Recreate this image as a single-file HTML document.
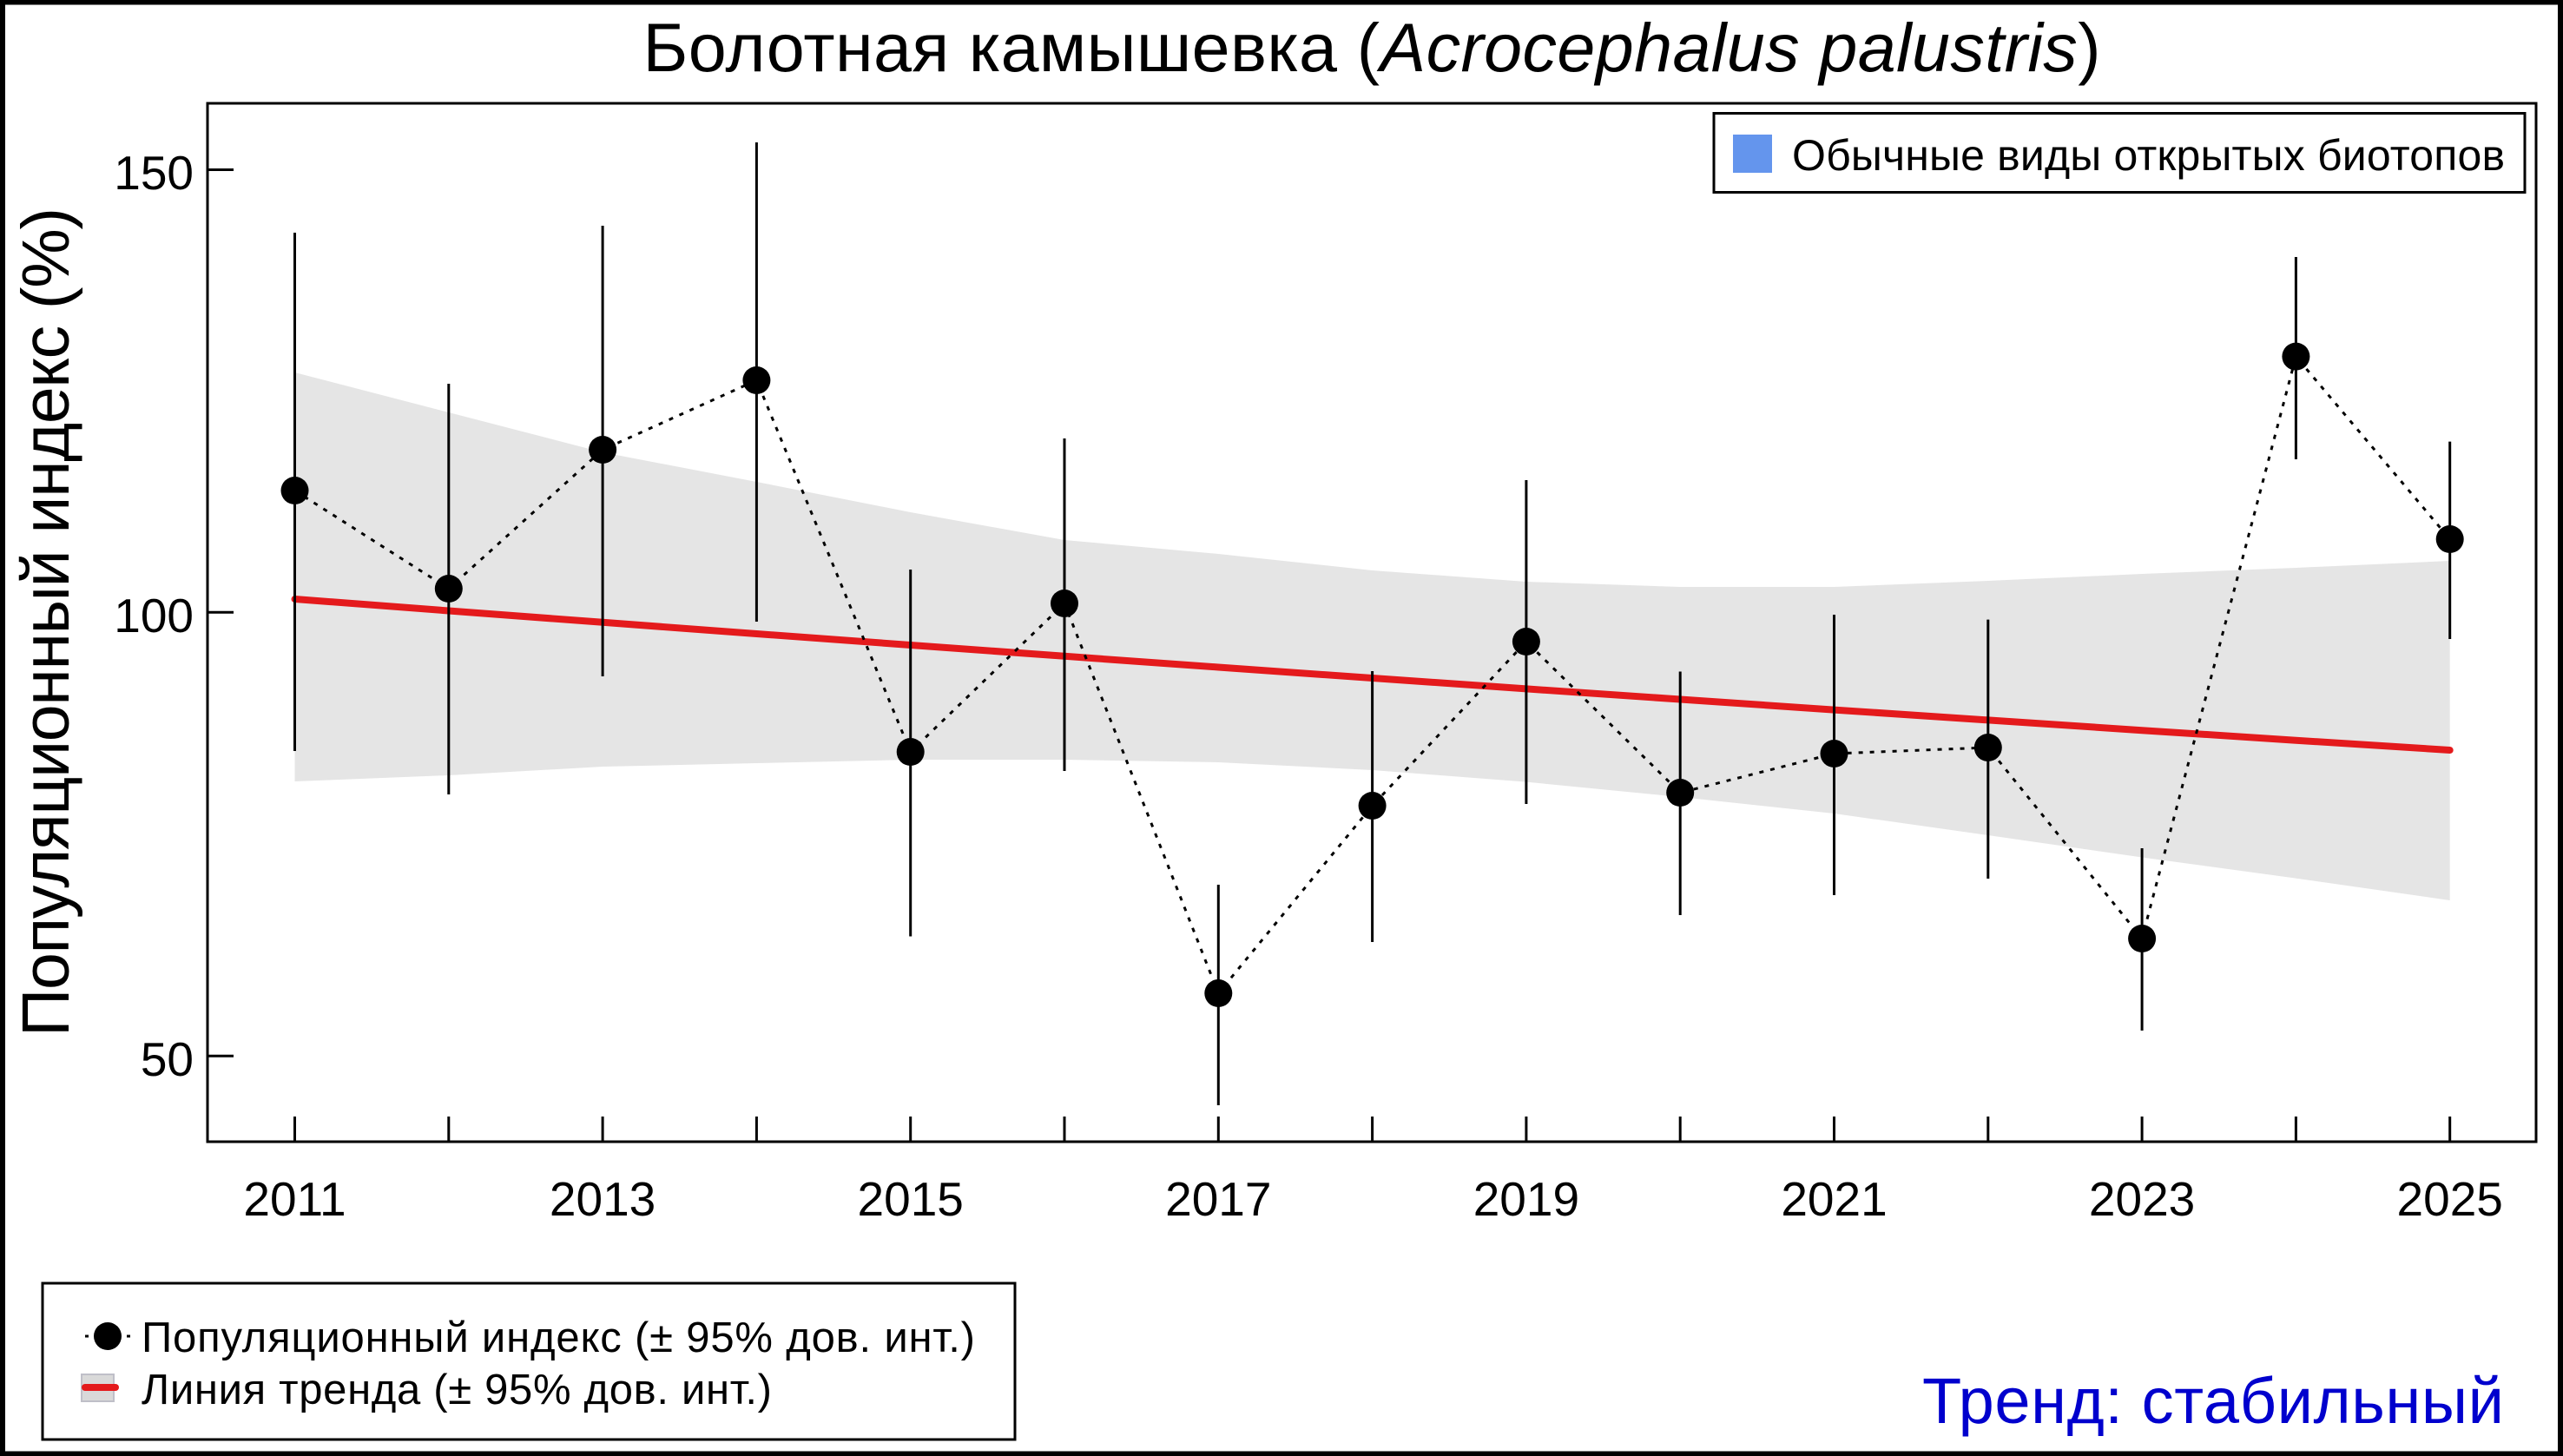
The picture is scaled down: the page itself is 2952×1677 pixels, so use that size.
<!DOCTYPE html>
<html><head><meta charset="utf-8">
<style>
html,body{margin:0;padding:0;background:#fff;}
svg{display:block;}
text{font-family:"Liberation Sans","DejaVu Sans",sans-serif;}
</style></head>
<body>
<svg xmlns="http://www.w3.org/2000/svg" width="2952" height="1677" viewBox="0 0 2952 1677">
<rect x="0" y="0" width="2952" height="1677" fill="#fff"/>
<!-- outer frame -->
<rect x="3" y="2.5" width="2946" height="1672" fill="none" stroke="#000" stroke-width="6"/>

<!-- title -->
<text x="1580" y="82" font-size="79" text-anchor="middle" fill="#000" textLength="1679">Болотная камышевка (<tspan font-style="italic">Acrocephalus palustris</tspan>)</text>

<!-- y label -->
<text transform="translate(79,716.5) rotate(-90)" x="0" y="0" font-size="77" text-anchor="middle" fill="#000" textLength="955">Популяционный индекс (%)</text>

<!-- CI band -->
<polygon fill="#e5e5e5" points="339.5,429 516.8,475 694.1,521 871.4,555 1048.7,590 1226,622 1403.3,638 1580.6,657 1757.9,670 1935.2,676 2112.5,676 2289.8,669 2467.1,661 2644.4,654 2821.7,646 2821.7,1037 2644.4,1011.6 2467.1,987.5 2289.8,962 2112.5,937 1935.2,918 1757.9,900.6 1580.6,887 1403.3,878 1226,875 1048.7,875 871.4,879 694.1,883 516.8,893 339.5,900"/>

<!-- trend line -->
<polyline fill="none" stroke="#e41a1c" stroke-width="8" stroke-linecap="round" stroke-linejoin="round" points="339.5,690 516.8,703.5 694.1,716.8 871.4,730 1048.7,743 1226,755.8 1403.3,768.5 1580.6,781 1757.9,793.4 1935.2,805.5 2112.5,817.6 2289.8,829.4 2467.1,841.2 2644.4,852.7 2821.7,864"/>

<!-- dotted connecting line -->
<polyline fill="none" stroke="#000" stroke-width="3" stroke-dasharray="5 8" points="339.5,565 516.8,678 694.1,518 871.4,438 1048.7,866 1226,695 1403.3,1144 1580.6,928 1757.9,739 1935.2,913 2112.5,868 2289.8,861 2467.1,1081 2644.4,410.6 2821.7,621"/>

<!-- error bars -->
<g stroke="#000" stroke-width="3">
<line x1="339.5" y1="268" x2="339.5" y2="865"/>
<line x1="516.8" y1="442" x2="516.8" y2="915"/>
<line x1="694.1" y1="260" x2="694.1" y2="779"/>
<line x1="871.4" y1="164" x2="871.4" y2="716"/>
<line x1="1048.7" y1="656" x2="1048.7" y2="1078.5"/>
<line x1="1226" y1="505" x2="1226" y2="888"/>
<line x1="1403.3" y1="1019" x2="1403.3" y2="1273"/>
<line x1="1580.6" y1="773" x2="1580.6" y2="1085"/>
<line x1="1757.9" y1="553" x2="1757.9" y2="926"/>
<line x1="1935.2" y1="773.5" x2="1935.2" y2="1054"/>
<line x1="2112.5" y1="708" x2="2112.5" y2="1031"/>
<line x1="2289.8" y1="713.6" x2="2289.8" y2="1012"/>
<line x1="2467.1" y1="977" x2="2467.1" y2="1187"/>
<line x1="2644.4" y1="296" x2="2644.4" y2="529"/>
<line x1="2821.7" y1="508.6" x2="2821.7" y2="736"/>
</g>

<!-- points -->
<g fill="#000">
<circle cx="339.5" cy="565" r="16"/>
<circle cx="516.8" cy="678" r="16"/>
<circle cx="694.1" cy="518" r="16"/>
<circle cx="871.4" cy="438" r="16"/>
<circle cx="1048.7" cy="866" r="16"/>
<circle cx="1226" cy="695" r="16"/>
<circle cx="1403.3" cy="1144" r="16"/>
<circle cx="1580.6" cy="928" r="16"/>
<circle cx="1757.9" cy="739" r="16"/>
<circle cx="1935.2" cy="913" r="16"/>
<circle cx="2112.5" cy="868" r="16"/>
<circle cx="2289.8" cy="861" r="16"/>
<circle cx="2467.1" cy="1081" r="16"/>
<circle cx="2644.4" cy="410.6" r="16"/>
<circle cx="2821.7" cy="621" r="16"/>
</g>

<!-- plot box -->
<rect x="239" y="119" width="2682" height="1196" fill="none" stroke="#000" stroke-width="3"/>

<!-- y ticks -->
<g stroke="#000" stroke-width="3">
<line x1="239" y1="195.5" x2="269" y2="195.5"/>
<line x1="239" y1="705.3" x2="269" y2="705.3"/>
<line x1="239" y1="1216.3" x2="269" y2="1216.3"/>
</g>
<g font-size="55" text-anchor="end" fill="#000">
<text x="223" y="218">150</text>
<text x="223" y="728">100</text>
<text x="223" y="1239">50</text>
</g>

<!-- x ticks -->
<g stroke="#000" stroke-width="3">
<line x1="339.5" y1="1286" x2="339.5" y2="1315"/>
<line x1="516.8" y1="1286" x2="516.8" y2="1315"/>
<line x1="694.1" y1="1286" x2="694.1" y2="1315"/>
<line x1="871.4" y1="1286" x2="871.4" y2="1315"/>
<line x1="1048.7" y1="1286" x2="1048.7" y2="1315"/>
<line x1="1226" y1="1286" x2="1226" y2="1315"/>
<line x1="1403.3" y1="1286" x2="1403.3" y2="1315"/>
<line x1="1580.6" y1="1286" x2="1580.6" y2="1315"/>
<line x1="1757.9" y1="1286" x2="1757.9" y2="1315"/>
<line x1="1935.2" y1="1286" x2="1935.2" y2="1315"/>
<line x1="2112.5" y1="1286" x2="2112.5" y2="1315"/>
<line x1="2289.8" y1="1286" x2="2289.8" y2="1315"/>
<line x1="2467.1" y1="1286" x2="2467.1" y2="1315"/>
<line x1="2644.4" y1="1286" x2="2644.4" y2="1315"/>
<line x1="2821.7" y1="1286" x2="2821.7" y2="1315"/>
</g>
<g font-size="55" text-anchor="middle" fill="#000">
<text x="339.5" y="1400">2011</text>
<text x="694.1" y="1400">2013</text>
<text x="1048.7" y="1400">2015</text>
<text x="1403.3" y="1400">2017</text>
<text x="1757.9" y="1400">2019</text>
<text x="2112.5" y="1400">2021</text>
<text x="2467.1" y="1400">2023</text>
<text x="2821.7" y="1400">2025</text>
</g>

<!-- top-right legend -->
<rect x="1974" y="130.5" width="934" height="91" fill="#fff" stroke="#000" stroke-width="3"/>
<rect x="1996" y="155" width="45" height="44" fill="#6495ed"/>
<text x="2064" y="196" font-size="50" fill="#000" textLength="821">Обычные виды открытых биотопов</text>

<!-- bottom legend -->
<rect x="49" y="1478" width="1120" height="180" fill="#fff" stroke="#000" stroke-width="3"/>
<line x1="98" y1="1539" x2="153" y2="1539" stroke="#000" stroke-width="3" stroke-dasharray="4 8"/>
<circle cx="124" cy="1539" r="16" fill="#000"/>
<text x="163" y="1557" font-size="49" fill="#000" textLength="960">Популяционный индекс (± 95% дов. инт.)</text>
<rect x="94" y="1583" width="37" height="31" fill="#d9d9d9" stroke="#bfbfc8" stroke-width="2"/>
<line x1="98" y1="1598" x2="133" y2="1598" stroke="#e41a1c" stroke-width="8" stroke-linecap="round"/>
<text x="163" y="1617" font-size="49" fill="#000" textLength="726">Линия тренда (± 95% дов. инт.)</text>

<!-- trend verdict -->
<text x="2884" y="1639" font-size="74" text-anchor="end" fill="#0000cd" textLength="670">Тренд: стабильный</text>
</svg>
</body></html>
